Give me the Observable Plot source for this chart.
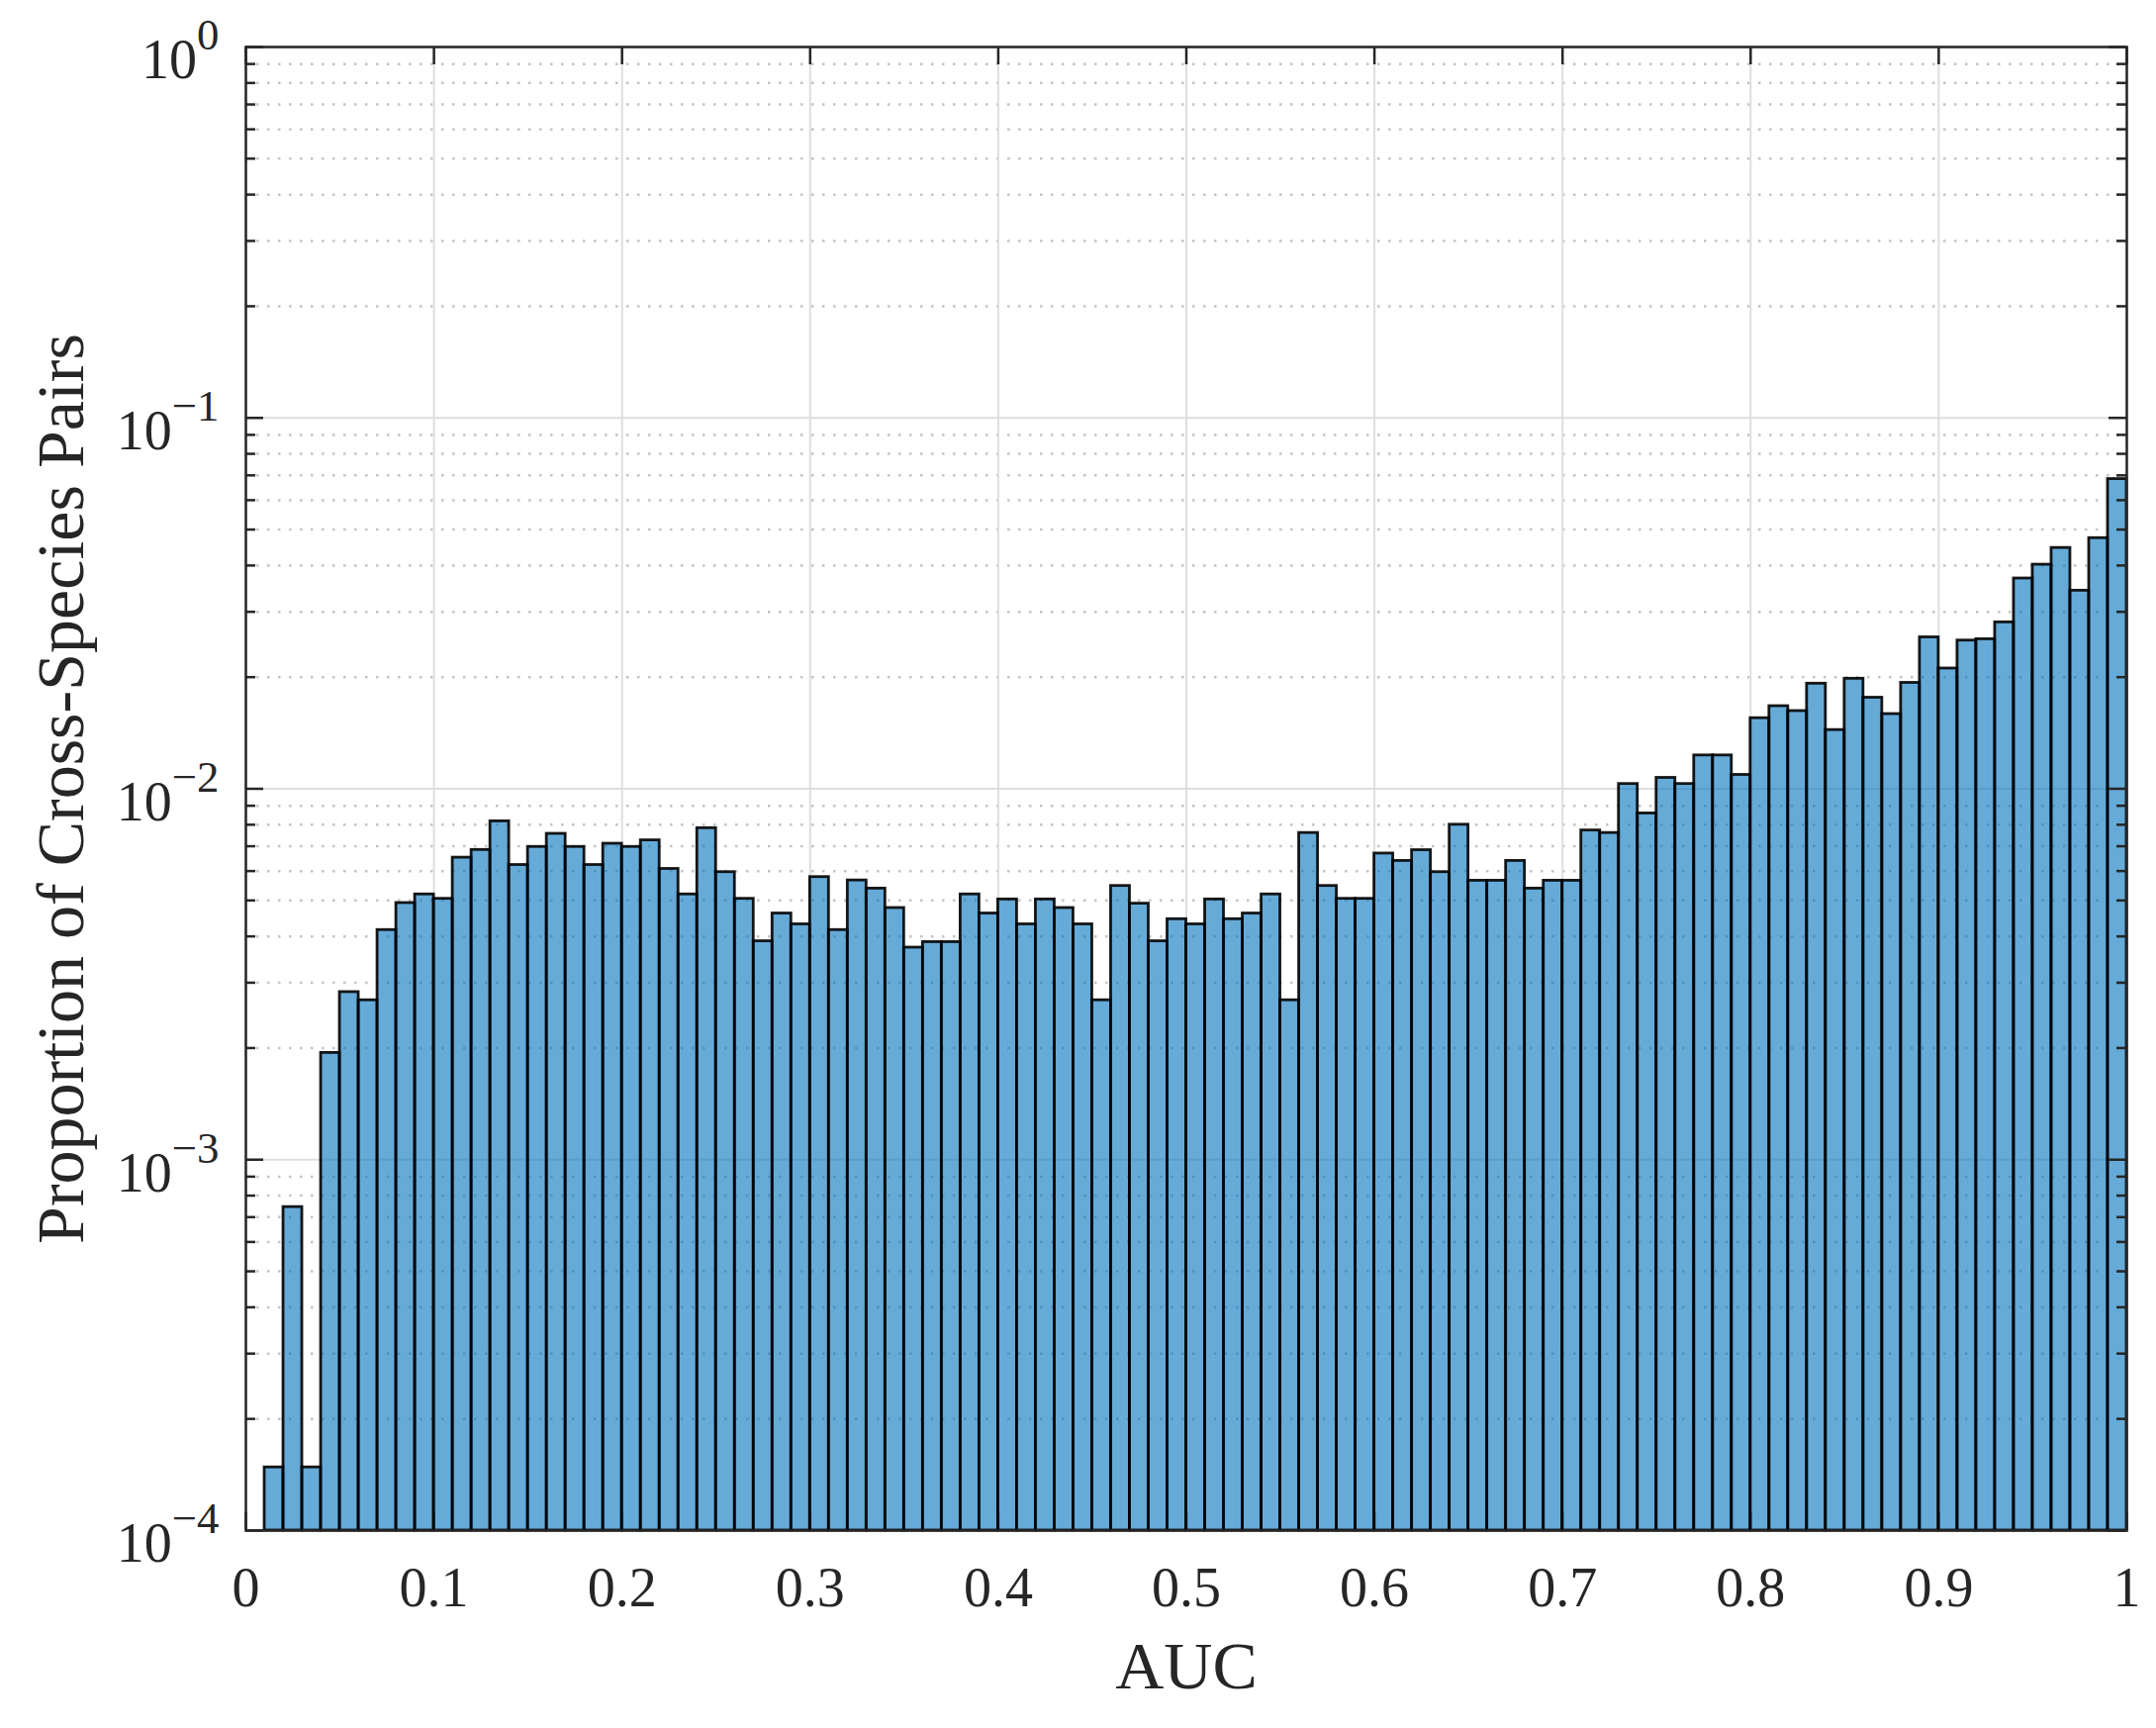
<!DOCTYPE html>
<html>
<head>
<meta charset="utf-8">
<script src="https://cdn.jsdelivr.net/npm/d3@7"></script>
<script src="https://cdn.jsdelivr.net/npm/@observablehq/plot@0.6"></script>
<style>
  body { margin: 0; background: #fff; }
</style>
</head>
<body>
<div id="chart"></div>
<script>
// histogram bins: width 0.01, left edges 0.01 ... 0.99
const binWidth = 0.01
const binStarts = d3.range(1, 100).map(i => i / 100)

// proportion of cross-species pairs per bin
const proportions = [
  1.48e-4, 7.45e-4, 1.48e-4, 1.94e-3, 2.83e-3, 2.69e-3, 4.16e-3, 4.92e-3, 5.19e-3,
  5.05e-3, 6.52e-3, 6.84e-3, 8.17e-3, 6.23e-3, 6.97e-3, 7.56e-3, 6.97e-3, 6.23e-3, 7.11e-3,
  6.97e-3, 7.26e-3, 6.08e-3, 5.19e-3, 7.83e-3, 5.96e-3, 5.05e-3, 3.88e-3, 4.61e-3, 4.31e-3,
  5.78e-3, 4.16e-3, 5.66e-3, 5.38e-3, 4.77e-3, 3.73e-3, 3.86e-3, 3.86e-3, 5.19e-3, 4.61e-3,
  5.03e-3, 4.31e-3, 5.03e-3, 4.77e-3, 4.31e-3, 2.69e-3, 5.47e-3, 4.90e-3, 3.88e-3, 4.45e-3,
  4.31e-3, 5.03e-3, 4.45e-3, 4.61e-3, 5.19e-3, 2.69e-3, 7.60e-3, 5.47e-3, 5.05e-3, 5.05e-3,
  6.69e-3, 6.39e-3, 6.83e-3, 5.96e-3, 8.00e-3, 5.65e-3, 5.65e-3, 6.39e-3, 5.38e-3, 5.65e-3,
  5.65e-3, 7.72e-3, 7.60e-3, 1.03e-2, 8.58e-3, 1.07e-2, 1.03e-2, 1.23e-2, 1.23e-2, 1.09e-2,
  1.55e-2, 1.67e-2, 1.62e-2, 1.92e-2, 1.44e-2, 1.98e-2, 1.76e-2, 1.59e-2, 1.93e-2, 2.56e-2,
  2.11e-2, 2.51e-2, 2.53e-2, 2.81e-2, 3.69e-2, 4.02e-2, 4.46e-2, 3.42e-2, 4.74e-2, 6.84e-2
]

const xTicks = [0, 0.1, 0.2, 0.3, 0.4, 0.5, 0.6, 0.7, 0.8, 0.9, 1]
const xTickLabels = ['0', '0.1', '0.2', '0.3', '0.4', '0.5', '0.6', '0.7', '0.8', '0.9', '1']
const yTicks = [1e-4, 1e-3, 1e-2, 1e-1, 1]
const yTickExponents = [-4, -3, -2, -1, 0]
const yMinorTicks = yTicks.slice(0, -1).flatMap(p => [2, 3, 4, 5, 6, 7, 8, 9].map(k => k * p))

const W = 2179, H = 1746
const margin = { top: 47, right: 30, bottom: 200, left: 248 }
const plotW = W - margin.left - margin.right
const plotH = H - margin.top - margin.bottom
const ink = '#262626'

const bars = binStarts.map((x0, i) => ({ x1: x0, x2: x0 + binWidth, p: proportions[i] }))

const chart = Plot.plot({
  width: W,
  height: H,
  marginTop: margin.top,
  marginRight: margin.right,
  marginBottom: margin.bottom,
  marginLeft: margin.left,
  style: { fontFamily: '"Liberation Serif", "DejaVu Serif", serif', color: ink, background: '#fff' },
  x: { domain: [0, 1] },
  y: { type: 'log', domain: [1e-4, 1] },
  marks: [
    // grid
    Plot.ruleY(yMinorTicks, { stroke: '#c4c4c4', strokeWidth: 2.5, strokeDasharray: '2.5,8.5' }),
    Plot.ruleY(yTicks, { stroke: '#dedede', strokeWidth: 2 }),
    Plot.ruleX(xTicks, { stroke: '#dedede', strokeWidth: 2 }),
    // bottom ticks sit under the bars
    Plot.ruleX(xTicks, { insetTop: plotH - 18, stroke: ink, strokeWidth: 2.5 }),

    Plot.rect(bars, {
      x1: 'x1', x2: 'x2', y1: 1e-4, y2: 'p',
      fill: '#0072bd', fillOpacity: 0.6,
      stroke: '#000', strokeWidth: 2.8, strokeOpacity: 0.9
    }),

    // inward ticks on all four sides
    Plot.ruleX(xTicks, { insetBottom: plotH - 18, stroke: ink, strokeWidth: 2.5 }),
    Plot.ruleY(yTicks, { insetRight: plotW - 18, stroke: ink, strokeWidth: 2.5 }),
    Plot.ruleY(yMinorTicks, { insetRight: plotW - 10, stroke: ink, strokeWidth: 2.5 }),
    Plot.ruleY(yTicks, { insetLeft: plotW - 18, stroke: ink, strokeWidth: 2.5 }),
    Plot.ruleY(yMinorTicks, { insetLeft: plotW - 10, stroke: ink, strokeWidth: 2.5 }),
    Plot.frame({ stroke: ink, strokeWidth: 2.5 }),

    Plot.axisX(xTicks, {
      tickSize: 0, tickPadding: 37, fontSize: 56, label: null,
      tickFormat: d => xTickLabels[xTicks.indexOf(d)]
    }),
    Plot.axisY(yTicks, {
      tickSize: 0, tickPadding: 27, dy: 14, fontSize: 56, label: null,
      tickFormat: d => String(yTickExponents[yTicks.indexOf(d)])
    }),

    Plot.text(['AUC'], {
      frameAnchor: 'bottom', lineAnchor: 'middle', dy: 138, fontSize: 68, fill: ink
    }),
    Plot.text(['Proportion of Cross-Species Pairs'], {
      frameAnchor: 'left', textAnchor: 'middle', lineAnchor: 'middle',
      dx: -186, rotate: -90, fontSize: 68, fill: ink
    })
  ]
})

// turn the exponent labels into 10 with a superscript
d3.select(chart).selectAll('g[aria-label="y-axis tick label"] text').each(function () {
  const e = +this.textContent
  const t = d3.select(this)
  t.text(null)
  t.append('tspan').text('10')
  t.append('tspan')
    .attr('font-size', '80%')
    .attr('dy', '-0.65em')
    .text(e < 0 ? '\u2212' + (-e) : String(e))
})

d3.select('#chart').append(() => chart)
</script>
</body>
</html>
